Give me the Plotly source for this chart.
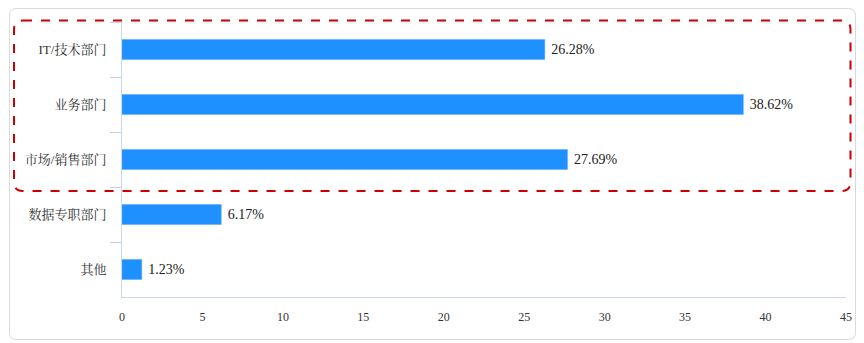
import plotly.graph_objects as go

categories = ["IT/技术部门", "业务部门", "市场/销售部门", "数据专职部门", "其他"]
values = [26.28, 38.62, 27.69, 6.17, 1.23]
labels = ["26.28%", "38.62%", "27.69%", "6.17%", "1.23%"]
x_ticks = [0, 5, 10, 15, 20, 25, 30, 35, 40, 45]

W, H = 864, 343
ML, MR, MT, MB = 122, 18, 22, 46
PW, PH = W - ML - MR, H - MT - MB

def px(x):
    return (x - ML) / PW

def py(y):
    return (H - MB - y) / PH

def rounded_rect(x0, y0, x1, y1, r):
    def P(x, y):
        return f"{px(x):.5f},{py(y):.5f}"
    return (f"M {P(x0 + r, y0)} L {P(x1 - r, y0)} Q {P(x1, y0)} {P(x1, y0 + r)} "
            f"L {P(x1, y1 - r)} Q {P(x1, y1)} {P(x1 - r, y1)} "
            f"L {P(x0 + r, y1)} Q {P(x0, y1)} {P(x0, y1 - r)} "
            f"L {P(x0, y0 + r)} Q {P(x0, y0)} {P(x0 + r, y0)} Z")

font_family = "Liberation Serif, Noto Serif CJK SC, Noto Sans CJK SC, serif"

fig = go.Figure(go.Bar(
    x=values, y=categories, orientation="h",
    marker=dict(color="#1e90ff", line=dict(color="#5aa9ff", width=0.5)),
    text=labels, texttemplate="\u00a0%{text}", textposition="outside", cliponaxis=False,
    textfont=dict(family=font_family, size=14, color="#222222"),
    hoverinfo="skip",
))

fig.update_layout(
    width=W, height=H,
    margin=dict(l=ML, r=MR, t=MT, b=MB),
    paper_bgcolor="white", plot_bgcolor="white",
    bargap=0.636,
    showlegend=False,
    font=dict(family=font_family, size=13, color="#333333"),
    xaxis=dict(
        range=[0, 45], tickvals=x_ticks, ticktext=[str(v) for v in x_ticks],
        showgrid=False, zeroline=False, showline=True, linecolor="#ccd6eb", linewidth=1,
        ticks="", ticklabelstandoff=9,
        tickfont=dict(family=font_family, size=12, color="#333333"),
    ),
    yaxis=dict(
        categoryorder="array", categoryarray=categories, autorange="reversed",
        showgrid=False, zeroline=False, showline=True, linecolor="#ccd6eb", linewidth=1,
        ticks="outside", tickson="boundaries", ticklen=11, tickcolor="#c4d0e6",
        ticklabelstandoff=12,
        tickfont=dict(family=font_family, size=13, color="#333333"),
    ),
    shapes=[
        dict(type="path", xref="paper", yref="paper", layer="below",
             path=rounded_rect(9.5, 8.5, 855.5, 339.5, 7),
             line=dict(color="#d9d9d9", width=1)),
        dict(type="path", xref="paper", yref="paper", layer="above",
             path=rounded_rect(14, 20.5, 850.5, 191, 9),
             line=dict(color="#cc0000", width=2, dash="dash")),
    ],
)

fig.write_html("out.html")
